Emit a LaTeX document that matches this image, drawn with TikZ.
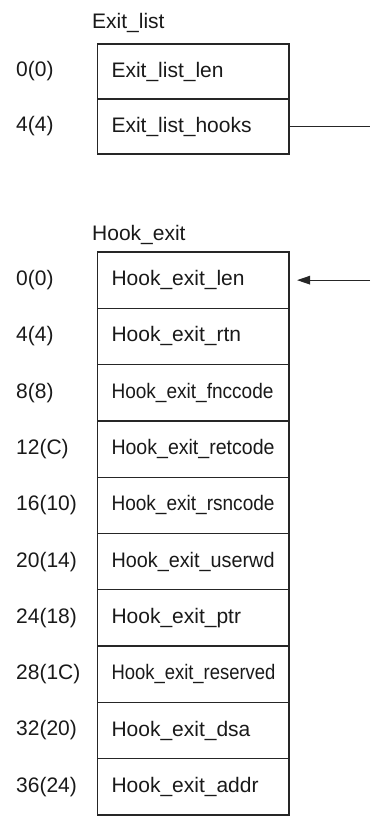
\documentclass[tikz,border=0pt]{standalone}
\usepackage{fontspec}
\setmainfont{Liberation Sans}
\usepackage{graphicx}
\usetikzlibrary{arrows.meta,positioning}

\begin{document}
\begin{tikzpicture}[x=1pt,y=-1pt,>={Triangle[length=13pt,width=8.5pt]},line cap=butt,line join=miter]
\tikzset{
  cell/.style={draw=black!85,line width=1.3pt,outer sep=0pt,minimum width=191.5pt,inner xsep=14pt,text width=163.5pt,align=left,font=\fontsize{21}{24}\selectfont,text=black!90},
  listcell/.style={cell,minimum height=55pt},
  hookcell/.style={cell,minimum height=56.3pt},
  offset/.style={anchor=west,inner sep=0pt,font=\fontsize{21}{24}\selectfont,text=black!90},
  title/.style={anchor=base west,inner sep=0pt,font=\fontsize{21}{24}\selectfont,text=black!90},
  link/.style={draw=black!85,line width=1.3pt}
}
\useasboundingbox (0,0) rectangle (370,816);
\coordinate (offx) at (16,0);
% Exit_list
\node[title] (exitlist) at (92,29) {Exit\_list};
\node[listcell,anchor=north] (len) at (193.25,44) {Exit\_list\_len};
\node[listcell,below=0pt of len] (hooks) {Exit\_list\_hooks};
\node[offset] (o1) at (len.center -| offx) {0(0)};
\node[offset] (o2) at (hooks.center -| offx) {4(4)};
% Hook_exit
\node[title] (hookexit) at (92,240) {Hook\_exit};
\node[hookcell,anchor=north] (hlen) at (193.25,252) {Hook\_exit\_len};
\node[hookcell,below=0pt of hlen] (hrtn) {Hook\_exit\_rtn};
\node[hookcell,below=0pt of hrtn] (hfnc) {\scalebox{0.907}[1]{Hook\_exit\_fnccode}};
\node[hookcell,below=0pt of hfnc] (hret) {\scalebox{0.931}[1]{Hook\_exit\_retcode}};
\node[hookcell,below=0pt of hret] (hrsn) {\scalebox{0.907}[1]{Hook\_exit\_rsncode}};
\node[hookcell,below=0pt of hrsn] (huser) {\scalebox{0.944}[1]{Hook\_exit\_userwd}};
\node[hookcell,below=0pt of huser] (hptr) {Hook\_exit\_ptr};
\node[hookcell,below=0pt of hptr] (hres) {\scalebox{0.878}[1]{Hook\_exit\_reserved}};
\node[hookcell,below=0pt of hres] (hdsa) {Hook\_exit\_dsa};
\node[hookcell,below=0pt of hdsa] (haddr) {Hook\_exit\_addr};
\node[offset] at (hlen.center -| offx) {0(0)};
\node[offset] at (hrtn.center -| offx) {4(4)};
\node[offset] at (hfnc.center -| offx) {8(8)};
\node[offset] at (hret.center -| offx) {12(C)};
\node[offset] at (hrsn.center -| offx) {16(10)};
\node[offset] at (huser.center -| offx) {20(14)};
\node[offset] at (hptr.center -| offx) {24(18)};
\node[offset] at (hres.center -| offx) {28(1C)};
\node[offset] at (hdsa.center -| offx) {32(20)};
\node[offset] at (haddr.center -| offx) {36(24)};
% pointers
\coordinate (out) at (370,0 |- hooks.center);
\coordinate (in) at (370,0 |- hlen.center);
\draw[link] (hooks.east) -- (out);
\draw[link,->,shorten >=8pt] (in) -- (hlen.east);
\end{tikzpicture}
\end{document}
